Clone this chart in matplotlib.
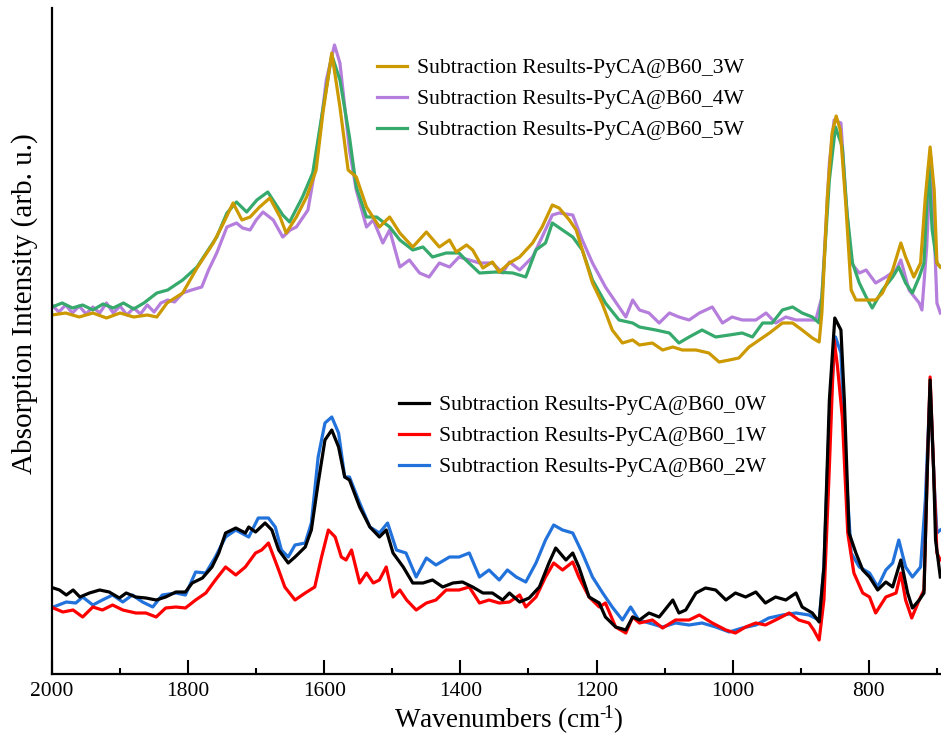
import matplotlib
matplotlib.use("Agg")
import matplotlib.pyplot as plt
from matplotlib.ticker import MultipleLocator
from matplotlib.lines import Line2D

# ---------------- data (wavenumber, intensity in arb. u.) ----------------
wn_3w = [2000, 1980, 1960, 1940, 1920, 1900, 1880, 1860, 1846, 1831, 1808, 1787, 1763, 1748, 1734,
         1721, 1709, 1695, 1680, 1665, 1656, 1641, 1626, 1612, 1602, 1589, 1577, 1565, 1553, 1538,
         1519, 1504, 1489, 1470, 1450, 1431, 1416, 1406, 1391, 1382, 1367, 1353, 1343, 1328, 1313,
         1294, 1280, 1265, 1255, 1240, 1230, 1215, 1206, 1192, 1177, 1162, 1147, 1137, 1118, 1103,
         1088, 1074, 1054, 1035, 1020, 1005, 991, 976, 961, 946, 927, 912, 898, 883, 873,
         869, 861, 854, 848, 842, 834, 826, 819, 804, 790, 780, 765, 753, 746, 734,
         724, 717, 710, 704, 700, 695]
int_3w = [3.59, 3.61, 3.57, 3.61, 3.56, 3.61, 3.57, 3.59, 3.57, 3.71, 3.81, 4.06, 4.31, 4.51, 4.71,
          4.54, 4.57, 4.67, 4.76, 4.57, 4.41, 4.57, 4.77, 5.04, 5.61, 6.21, 5.67, 5.04, 4.97, 4.67,
          4.47, 4.57, 4.41, 4.27, 4.42, 4.27, 4.34, 4.22, 4.29, 4.24, 4.06, 4.12, 4.02, 4.11, 4.17,
          4.31, 4.47, 4.69, 4.66, 4.54, 4.44, 4.11, 3.91, 3.71, 3.44, 3.31, 3.34, 3.29, 3.31, 3.24,
          3.27, 3.24, 3.24, 3.21, 3.12, 3.14, 3.16, 3.27, 3.34, 3.41, 3.51, 3.51, 3.44, 3.36, 3.32,
          3.61, 4.77, 5.41, 5.58, 5.44, 4.71, 3.84, 3.74, 3.74, 3.74, 3.81, 4.04, 4.31, 4.17, 3.97,
          4.11, 4.77, 5.27, 4.84, 4.11, 4.07]

wn_4w = [2000, 1990, 1980, 1970, 1960, 1950, 1940, 1930, 1920, 1910, 1900, 1890, 1880, 1870, 1860,
         1850, 1840, 1830, 1820, 1808, 1795, 1780, 1770, 1758, 1743, 1729, 1720, 1709, 1700, 1690,
         1675, 1661, 1650, 1641, 1624, 1612, 1597, 1585, 1577, 1572, 1563, 1553, 1538, 1528, 1514,
         1504, 1489, 1475, 1460, 1446, 1431, 1416, 1402, 1387, 1372, 1353, 1338, 1328, 1313, 1294,
         1280, 1265, 1255, 1235, 1221, 1206, 1187, 1167, 1157, 1147, 1137, 1123, 1108, 1093, 1079,
         1064, 1049, 1030, 1015, 1001, 986, 966, 951, 937, 922, 907, 892, 878, 869, 858,
         851, 841, 834, 826, 814, 804, 790, 775, 760, 753, 741, 726, 722, 715, 709,
         704, 700, 695]
int_4w = [3.69, 3.62, 3.69, 3.61, 3.68, 3.60, 3.67, 3.61, 3.71, 3.61, 3.68, 3.59, 3.66, 3.60, 3.69,
          3.62, 3.71, 3.74, 3.72, 3.81, 3.84, 3.87, 4.04, 4.21, 4.47, 4.51, 4.46, 4.44, 4.54, 4.62,
          4.54, 4.37, 4.44, 4.47, 4.64, 5.11, 5.94, 6.29, 6.11, 5.80, 5.24, 4.84, 4.47, 4.54, 4.31,
          4.44, 4.07, 4.14, 4.01, 3.97, 4.11, 4.07, 4.17, 4.14, 4.11, 4.11, 4.01, 4.12, 4.04, 4.17,
          4.37, 4.59, 4.61, 4.59, 4.34, 4.11, 3.87, 3.67, 3.57, 3.74, 3.64, 3.61, 3.51, 3.61, 3.57,
          3.54, 3.61, 3.67, 3.51, 3.57, 3.54, 3.54, 3.61, 3.51, 3.57, 3.54, 3.54, 3.54, 3.77, 5.11,
          5.54, 5.51, 4.77, 4.11, 4.01, 4.04, 3.91, 3.97, 4.04, 4.14, 3.84, 3.71, 3.64, 4.27, 5.17,
          4.44, 3.71, 3.61]

wn_5w = [2000, 1985, 1970, 1955, 1940, 1925, 1910, 1895, 1880, 1865, 1846, 1830, 1808, 1787, 1758,
         1743, 1729, 1714, 1699, 1683, 1661, 1651, 1632, 1617, 1607, 1589, 1577, 1563, 1553, 1538,
         1523, 1504, 1489, 1470, 1455, 1441, 1421, 1402, 1392, 1372, 1348, 1323, 1304, 1289, 1275,
         1265, 1250, 1235, 1221, 1206, 1187, 1167, 1147, 1137, 1113, 1093, 1079, 1064, 1045, 1025,
         1005, 986, 971, 956, 942, 927, 912, 898, 883, 873, 869, 858, 849, 839, 832,
         824, 814, 804, 795, 780, 765, 756, 746, 736, 726, 719, 712, 707, 700, 695]
int_5w = [3.67, 3.71, 3.66, 3.69, 3.64, 3.70, 3.66, 3.71, 3.65, 3.71, 3.81, 3.84, 3.94, 4.07, 4.37,
          4.61, 4.72, 4.62, 4.74, 4.82, 4.59, 4.52, 4.77, 5.01, 5.44, 6.19, 5.94, 5.37, 4.87, 4.57,
          4.57, 4.47, 4.34, 4.24, 4.27, 4.17, 4.21, 4.21, 4.14, 4.01, 4.02, 4.01, 3.97, 4.24, 4.31,
          4.51, 4.44, 4.37, 4.24, 3.94, 3.71, 3.54, 3.51, 3.47, 3.44, 3.41, 3.31, 3.37, 3.44, 3.37,
          3.39, 3.41, 3.37, 3.51, 3.51, 3.64, 3.67, 3.61, 3.57, 3.51, 3.77, 4.94, 5.47, 5.27, 4.61,
          4.11, 3.91, 3.77, 3.66, 3.84, 3.97, 4.07, 3.91, 3.81, 3.97, 4.11, 5.11, 4.44, 4.11, 4.07]

wn_0w = [1998, 1989, 1979, 1969, 1959, 1945, 1930, 1916, 1901, 1891, 1877, 1862, 1847, 1833, 1818,
         1804, 1794, 1779, 1765, 1755, 1745, 1730, 1716, 1711, 1701, 1687, 1677, 1667, 1653, 1643,
         1628, 1619, 1609, 1599, 1589, 1579, 1570, 1563, 1548, 1533, 1519, 1509, 1499, 1484, 1470,
         1455, 1441, 1426, 1411, 1397, 1382, 1367, 1353, 1338, 1328, 1313, 1299, 1284, 1270, 1260,
         1245, 1235, 1226, 1211, 1196, 1187, 1172, 1157, 1147, 1137, 1123, 1108, 1088, 1079, 1069,
         1054, 1040, 1025, 1010, 996, 981, 966, 952, 937, 922, 907, 898, 883, 873, 866,
         858, 850, 841, 836, 829, 819, 809, 799, 787, 775, 765, 753, 743, 736, 726,
         719, 714, 710, 705, 702, 695]
int_0w = [0.86, 0.84, 0.79, 0.84, 0.77, 0.81, 0.84, 0.82, 0.76, 0.81, 0.77, 0.76, 0.74, 0.77, 0.82,
          0.82, 0.91, 0.96, 1.07, 1.21, 1.41, 1.46, 1.41, 1.47, 1.42, 1.51, 1.44, 1.24, 1.11, 1.17,
          1.27, 1.44, 1.91, 2.34, 2.44, 2.27, 1.97, 1.94, 1.67, 1.47, 1.37, 1.44, 1.21, 1.07, 0.91,
          0.91, 0.94, 0.87, 0.91, 0.92, 0.87, 0.81, 0.81, 0.74, 0.81, 0.72, 0.76, 0.87, 1.11, 1.26,
          1.14, 1.21, 1.07, 0.77, 0.71, 0.57, 0.47, 0.44, 0.57, 0.54, 0.61, 0.57, 0.74, 0.61, 0.64,
          0.81, 0.86, 0.84, 0.74, 0.81, 0.77, 0.82, 0.71, 0.77, 0.74, 0.81, 0.67, 0.61, 0.52, 1.07,
          2.74, 3.56, 3.44, 2.74, 1.41, 1.21, 1.04, 0.97, 0.84, 0.92, 0.87, 1.14, 0.81, 0.66, 0.74,
          0.81, 2.07, 2.94, 2.07, 1.34, 0.97]

wn_1w = [1998, 1984, 1969, 1955, 1940, 1926, 1911, 1896, 1877, 1862, 1847, 1833, 1818, 1804, 1789,
         1774, 1760, 1745, 1730, 1716, 1701, 1692, 1682, 1667, 1658, 1643, 1628, 1614, 1604, 1594,
         1584, 1575, 1568, 1560, 1548, 1538, 1528, 1519, 1509, 1499, 1489, 1479, 1465, 1450, 1436,
         1421, 1402, 1387, 1372, 1358, 1343, 1328, 1313, 1304, 1289, 1275, 1263, 1250, 1235, 1226,
         1211, 1196, 1187, 1172, 1157, 1147, 1137, 1118, 1103, 1084, 1064, 1049, 1030, 1010, 996,
         981, 966, 952, 937, 917, 903, 888, 881, 873, 866, 858, 851, 846, 839, 831,
         822, 809, 799, 790, 775, 760, 753, 746, 737, 726, 719, 714, 710, 705, 700,
         695]
int_1w = [0.66, 0.62, 0.64, 0.57, 0.67, 0.64, 0.69, 0.64, 0.61, 0.61, 0.57, 0.66, 0.67, 0.66, 0.74,
          0.81, 0.94, 1.07, 0.99, 1.07, 1.21, 1.24, 1.31, 1.04, 0.87, 0.74, 0.81, 0.87, 1.17, 1.44,
          1.37, 1.17, 1.14, 1.24, 0.91, 1.01, 0.91, 0.94, 1.07, 0.77, 0.84, 0.74, 0.64, 0.71, 0.74,
          0.84, 0.84, 0.87, 0.71, 0.74, 0.71, 0.72, 0.79, 0.67, 0.77, 0.97, 1.11, 1.04, 1.12, 0.97,
          0.77, 0.67, 0.71, 0.47, 0.41, 0.57, 0.51, 0.54, 0.46, 0.54, 0.54, 0.59, 0.51, 0.44, 0.41,
          0.47, 0.51, 0.49, 0.54, 0.61, 0.54, 0.51, 0.44, 0.34, 0.74, 2.07, 3.34, 3.07, 2.57, 1.41,
          1.01, 0.81, 0.77, 0.61, 0.77, 0.81, 1.01, 0.74, 0.56, 0.74, 0.84, 2.07, 2.97, 2.07, 1.21,
          1.14]

wn_2w = [1998, 1979, 1965, 1955, 1940, 1926, 1911, 1896, 1882, 1867, 1852, 1838, 1818, 1804, 1789,
         1774, 1760, 1745, 1730, 1711, 1697, 1682, 1672, 1663, 1653, 1643, 1628, 1619, 1609, 1599,
         1589, 1579, 1570, 1563, 1548, 1533, 1519, 1507, 1494, 1480, 1465, 1450, 1436, 1416, 1402,
         1387, 1372, 1358, 1343, 1331, 1318, 1304, 1289, 1275, 1263, 1250, 1235, 1221, 1206, 1191,
         1177, 1162, 1150, 1138, 1123, 1103, 1084, 1064, 1045, 1025, 1005, 986, 966, 947, 927,
         907, 888, 873, 866, 858, 849, 841, 834, 826, 814, 799, 787, 775, 765, 756,
         746, 736, 724, 717, 710, 704, 700, 695]
int_2w = [0.67, 0.72, 0.71, 0.77, 0.69, 0.74, 0.79, 0.72, 0.79, 0.72, 0.67, 0.79, 0.81, 0.79, 1.02,
          1.01, 1.17, 1.37, 1.44, 1.37, 1.56, 1.56, 1.47, 1.24, 1.17, 1.29, 1.31, 1.51, 2.17, 2.51,
          2.57, 2.41, 1.97, 1.97, 1.71, 1.47, 1.41, 1.51, 1.24, 1.21, 0.97, 1.16, 1.09, 1.17, 1.17,
          1.21, 0.97, 1.04, 0.94, 1.04, 0.97, 0.92, 1.11, 1.34, 1.49, 1.44, 1.41, 1.21, 0.97, 0.81,
          0.67, 0.54, 0.67, 0.54, 0.51, 0.47, 0.51, 0.49, 0.51, 0.47, 0.42, 0.46, 0.49, 0.56, 0.59,
          0.61, 0.59, 0.54, 1.07, 2.57, 3.37, 3.21, 2.07, 1.21, 1.07, 1.01, 0.87, 1.04, 1.11, 1.34,
          1.07, 0.97, 1.07, 1.74, 2.87, 1.91, 1.41, 1.44]

labels_upper = ["Subtraction Results-PyCA@B60_3W",
                "Subtraction Results-PyCA@B60_4W",
                "Subtraction Results-PyCA@B60_5W"]
labels_lower = ["Subtraction Results-PyCA@B60_0W",
                "Subtraction Results-PyCA@B60_1W",
                "Subtraction Results-PyCA@B60_2W"]
x_ticks = [2000, 1800, 1600, 1400, 1200, 1000, 800]

# ---------------- style ----------------
plt.rcParams['font.family'] = ['Liberation Serif', 'DejaVu Serif']
plt.rcParams['mathtext.fontset'] = 'custom'
plt.rcParams['mathtext.rm'] = 'Liberation Serif'
plt.rcParams['mathtext.it'] = 'Liberation Serif'

C3, C4, C5 = '#CC9900', '#B57EDC', '#36A96C'
C0, C1, C2 = '#000000', '#FF0000', '#2272DC'
LW = 2.3

fig = plt.figure(figsize=(9.41, 7.37), dpi=100)
ax = fig.add_axes([52/941, 63/737, 889/941, 666/737])

ax.plot(wn_4w, int_4w, color=C4, lw=LW)
ax.plot(wn_5w, int_5w, color=C5, lw=LW)
ax.plot(wn_3w, int_3w, color=C3, lw=LW)
ax.plot(wn_2w, int_2w, color=C2, lw=LW)
ax.plot(wn_1w, int_1w, color=C1, lw=LW)
ax.plot(wn_0w, int_0w, color=C0, lw=LW)

ax.set_xlim(2000, 694)
ax.set_ylim(0, 6.66)

for s in ['top', 'right']:
    ax.spines[s].set_visible(False)
for s in ['left', 'bottom']:
    ax.spines[s].set_linewidth(1.6)

ax.set_xticks(x_ticks)
ax.xaxis.set_minor_locator(MultipleLocator(100))
ax.tick_params(axis='x', which='major', direction='in', length=10, width=1.5,
               labelsize=15.5, pad=6)
ax.tick_params(axis='x', which='minor', direction='in', length=4.5, width=1.5)
ax.set_yticks([])

ax.set_xlabel('Wavenumbers (cm$^{\u2010\\!1}$)', fontsize=19.5)
ax.xaxis.set_label_coords((509 - 52) / 889, -(720 - 674) / 666, transform=ax.transAxes)
ax.xaxis.label.set_va('center')
ax.set_ylabel('Absorption Intensity (arb. u.)', fontsize=21)
ax.yaxis.set_label_coords(-(52 - 25) / 889, (674 - 304) / 666, transform=ax.transAxes)
ax.yaxis.label.set_va('center')

h_up = [Line2D([], [], color=c, lw=LW) for c in (C3, C4, C5)]
h_lo = [Line2D([], [], color=c, lw=LW) for c in (C0, C1, C2)]

leg1 = fig.legend(h_up, labels_upper, loc='center left',
                  bbox_to_anchor=(377/941, 1 - 99/737), frameon=False,
                  fontsize=15.6, handlelength=1.4, handletextpad=0.45,
                  labelspacing=0.5, borderpad=0, borderaxespad=0)
leg2 = fig.legend(h_lo, labels_lower, loc='center left',
                  bbox_to_anchor=(399/941, 1 - 436/737), frameon=False,
                  fontsize=15.6, handlelength=1.4, handletextpad=0.45,
                  labelspacing=0.5, borderpad=0, borderaxespad=0)

fig.savefig('out.png', dpi=100)
